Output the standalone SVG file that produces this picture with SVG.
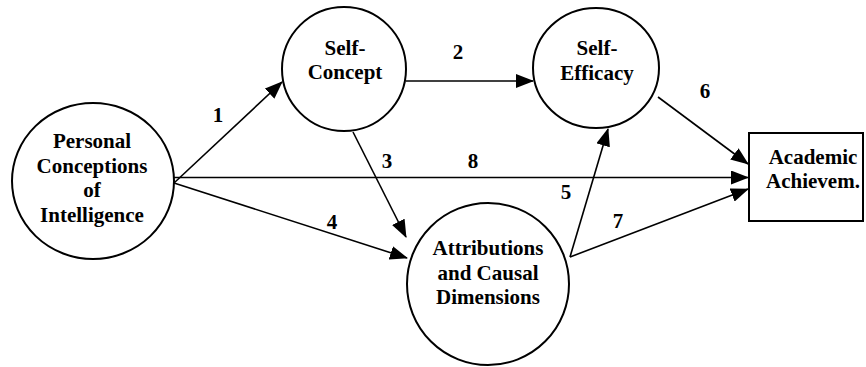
<svg xmlns="http://www.w3.org/2000/svg" width="866" height="367" viewBox="0 0 866 367">
<style>
.n{fill:#fff;stroke:#000;stroke-width:2}
.t{font-family:'Times New Roman','Liberation Serif',Times,serif;font-weight:bold;font-size:21px;text-anchor:middle;fill:#000}
.l{font-family:'Times New Roman','Liberation Serif',Times,serif;font-weight:bold;font-size:21px;text-anchor:middle;fill:#000}
.c{stroke:#000;stroke-width:1.6;fill:none;marker-end:url(#a)}
</style>
<defs>
<marker id="a" markerUnits="userSpaceOnUse" markerWidth="18" markerHeight="14" viewBox="0 0 18 14" refX="17" refY="7" orient="auto">
<path d="M0,0 L18,7 L0,14 Z" fill="#000"/>
</marker>
</defs>
<rect width="866" height="367" fill="#fff"/>
<g id="connectors">
<line class="c" x1="174" y1="183" x2="282" y2="82"/>
<line class="c" x1="406" y1="81" x2="533" y2="81"/>
<line class="c" x1="353" y1="132" x2="406" y2="237"/>
<line class="c" x1="174" y1="177.5" x2="748" y2="177.5"/>
<line class="c" x1="174" y1="183" x2="407" y2="258"/>
<line class="c" x1="570" y1="257" x2="608" y2="129"/>
<line class="c" x1="570" y1="257" x2="748" y2="189"/>
<line class="c" x1="658" y1="97" x2="748" y2="164"/>
</g>
<g id="labels">
<text class="l" x="218" y="122">1</text>
<text class="l" x="458" y="59">2</text>
<text class="l" x="387" y="168">3</text>
<text class="l" x="473" y="168">8</text>
<text class="l" x="332" y="229">4</text>
<text class="l" x="566" y="199">5</text>
<text class="l" x="618" y="228">7</text>
<text class="l" x="705" y="98">6</text>
</g>
<g id="personal">
<ellipse class="n" cx="93" cy="181" rx="81" ry="78"/>
<text class="t" x="92" y="148">Personal</text>
<text class="t" x="92" y="173">Conceptions</text>
<text class="t" x="92" y="197">of</text>
<text class="t" x="92" y="222">Intelligence</text>
</g>
<g id="selfconcept">
<ellipse class="n" cx="344" cy="69" rx="62" ry="62"/>
<text class="t" x="345" y="55">Self-</text>
<text class="t" x="345" y="79">Concept</text>
</g>
<g id="selfefficacy">
<ellipse class="n" cx="596" cy="68" rx="63" ry="60"/>
<text class="t" x="597" y="55">Self-</text>
<text class="t" x="597" y="80">Efficacy</text>
</g>
<g id="attributions">
<ellipse class="n" cx="488" cy="284" rx="81" ry="81"/>
<text class="t" x="488" y="255">Attributions</text>
<text class="t" x="488" y="280">and Causal</text>
<text class="t" x="488" y="304">Dimensions</text>
</g>
<g id="academic">
<rect class="n" x="749" y="133" width="114" height="88"/>
<text class="t" x="813" y="164">Academic</text>
<text class="t" x="813" y="188">Achievem.</text>
</g>
</svg>
